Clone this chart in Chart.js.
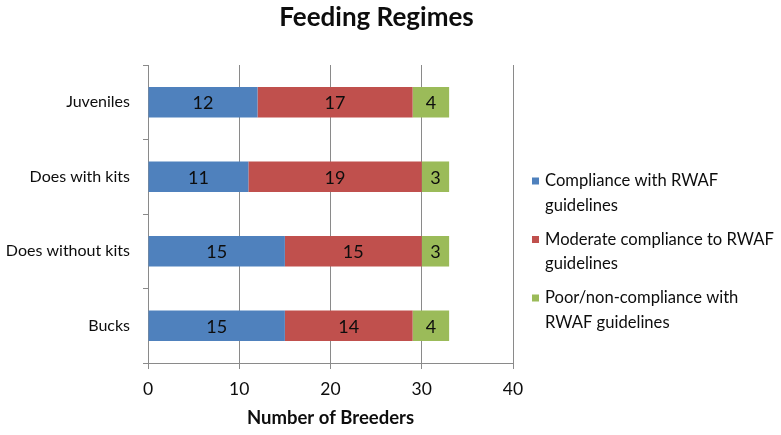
<!DOCTYPE html>
<html>
<head>
<meta charset="utf-8">
<script src="https://cdn.jsdelivr.net/npm/chart.js@4/dist/chart.umd.min.js"></script>
<style>
  html, body { margin: 0; padding: 0; background: #ffffff; }
  #wrap { width: 781px; height: 435px; }
</style>
</head>
<body>
<div id="wrap"><canvas id="c" width="781" height="435"></canvas></div>
<script>
// ---- data ----
const categories = ['Juveniles', 'Does with kits', 'Does without kits', 'Bucks'];
const seriesNames = [
  'Compliance with RWAF guidelines',
  'Moderate compliance to RWAF guidelines',
  'Poor/non-compliance with RWAF guidelines'
];
const legendLines = [
  ['Compliance with RWAF', 'guidelines'],
  ['Moderate compliance to RWAF', 'guidelines'],
  ['Poor/non-compliance with', 'RWAF guidelines']
];
const compliance = [12, 11, 15, 15];
const moderate = [17, 19, 15, 14];
const poor = [4, 3, 3, 4];
const xTickValues = [0, 10, 20, 30, 40];
const chartTitle = 'Feeding Regimes';
const xAxisTitle = 'Number of Breeders';

// ---- styles ----
const colors = ['#4F81BD', '#C0504D', '#9BBB59'];
const FONT = 'Lato, "Open Sans", sans-serif';
const TEXT = '#0d0d0d';
const GRID = '#8a8a8a';

const valueLabels = {
  id: 'valueLabels',
  afterDatasetsDraw(chart) {
    const ctx = chart.ctx;
    ctx.save();
    ctx.font = '18px ' + FONT;
    ctx.fillStyle = TEXT;
    ctx.textAlign = 'center';
    ctx.textBaseline = 'middle';
    chart.data.datasets.forEach((ds, di) => {
      const meta = chart.getDatasetMeta(di);
      meta.data.forEach((bar, i) => {
        const p = bar.getProps(['x', 'y', 'base'], true);
        ctx.fillText(String(ds.data[i]), (p.x + p.base) / 2, p.y + 1);
      });
    });
    ctx.restore();
  }
};

const sideLegend = {
  id: 'sideLegend',
  afterDraw(chart) {
    const ctx = chart.ctx;
    const area = chart.chartArea;
    const boxX = area.right + 19;
    const textX = boxX + 13;
    const firstY = [181, 239.5, 298];
    const lineGap = 24.5;
    ctx.save();
    ctx.font = '16.6px ' + FONT;
    ctx.textAlign = 'left';
    ctx.textBaseline = 'middle';
    chart.data.datasets.forEach((ds, i) => {
      const y0 = firstY[i];
      ctx.fillStyle = ds.backgroundColor;
      ctx.fillRect(boxX, y0 - 3.5, 7, 7);
      ctx.fillStyle = TEXT;
      legendLines[i].forEach((line, k) => {
        ctx.fillText(line, textX, y0 + k * lineGap);
      });
    });
    ctx.restore();
  }
};

new Chart(document.getElementById('c'), {
  type: 'bar',
  data: {
    labels: categories,
    datasets: [
      { label: seriesNames[0], data: compliance, backgroundColor: colors[0] },
      { label: seriesNames[1], data: moderate, backgroundColor: colors[1] },
      { label: seriesNames[2], data: poor, backgroundColor: colors[2] }
    ]
  },
  options: {
    indexAxis: 'y',
    responsive: false,
    animation: false,
    devicePixelRatio: 1,
    layout: { padding: { left: 0, right: 28, top: 0, bottom: 0 } },
    datasets: { bar: { categoryPercentage: 1, barPercentage: 0.41, borderWidth: 0 } },
    plugins: {
      legend: { display: false },
      tooltip: { enabled: false },
      title: {
        display: true,
        text: chartTitle,
        color: TEXT,
        font: { family: FONT, size: 26, weight: 'bold', lineHeight: 1.2 },
        padding: { top: 2, bottom: 31.8 }
      }
    },
    scales: {
      x: {
        stacked: true,
        min: 0,
        max: 40,
        afterBuildTicks(scale) { scale.ticks = xTickValues.map(v => ({ value: v })); },
        afterFit(scale) { scale.height = 72; },
        grid: { color: GRID, lineWidth: 1, drawTicks: true, tickLength: 6, tickColor: GRID },
        border: { display: true, color: GRID, width: 1 },
        ticks: { color: TEXT, font: { family: FONT, size: 17.5 }, padding: 10 },
        title: {
          display: true,
          text: xAxisTitle,
          color: TEXT,
          font: { family: FONT, size: 18.5, weight: 'bold', lineHeight: 1.2 },
          padding: { top: 4, bottom: 6 }
        }
      },
      y: {
        stacked: true,
        offset: true,
        afterFit(scale) { scale.width = 148; },
        grid: { display: true, drawOnChartArea: false, drawTicks: true, tickLength: 5, offset: true, color: GRID, tickColor: GRID },
        border: { display: true, color: GRID, width: 1 },
        ticks: { color: TEXT, font: { family: FONT, size: 16 }, padding: 13 }
      },
      yRight: {
        type: 'category',
        position: 'right',
        display: true,
        labels: [],
        afterFit(scale) { scale.width = 240; },
        grid: { display: false, drawTicks: false },
        border: { display: false },
        ticks: { display: false }
      }
    }
  },
  plugins: [valueLabels, sideLegend]
});
</script>
</body>
</html>
